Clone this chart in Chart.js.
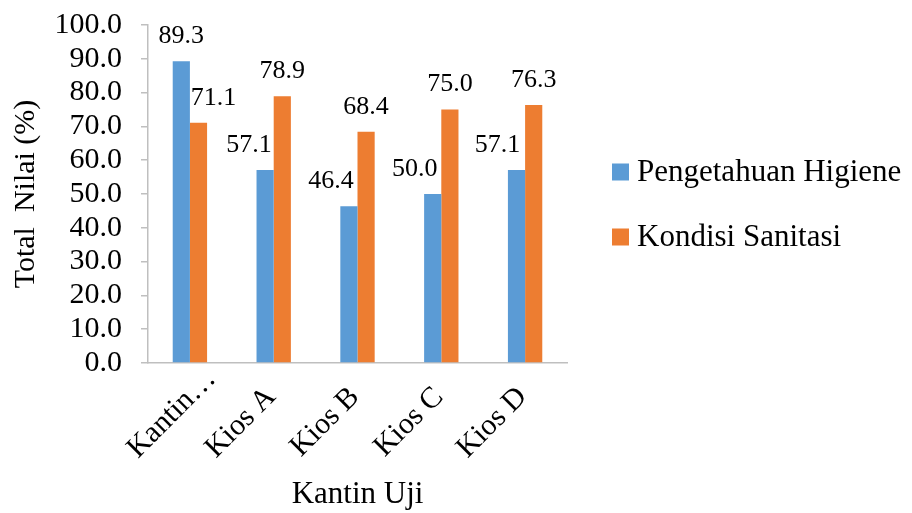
<!DOCTYPE html>
<html>
<head>
<meta charset="utf-8">
<script src="https://cdn.jsdelivr.net/npm/chart.js@4/dist/chart.umd.min.js"></script>
<style>
  html, body { margin: 0; padding: 0; background: #ffffff; }
  #wrap { width: 912px; height: 513px; position: relative; }
</style>
</head>
<body>
<div id="wrap"><canvas id="chart" width="912" height="513"></canvas></div>
<script>
// Canteens surveyed
const categories = ['Kantin\u2026', 'Kios A', 'Kios B', 'Kios C', 'Kios D'];

// Scores per canteen (%)
const pengetahuanHigiene = [89.3, 57.1, 46.4, 50.0, 57.1];
const kondisiSanitasi = [71.1, 78.9, 68.4, 75.0, 76.3];

const seriesNames = ['Pengetahuan Higiene', 'Kondisi Sanitasi'];
const yTicks = [0, 10, 20, 30, 40, 50, 60, 70, 80, 90, 100];

const FONT = "'Liberation Serif', 'Times New Roman', serif";
const AXIS_GRAY = '#bfbfbf';

// Value labels above each bar, with small horizontal nudges so they don't collide
const valueLabels = {
  id: 'valueLabels',
  afterDatasetsDraw(chart, args, opts) {
    const ctx = chart.ctx;
    ctx.save();
    ctx.font = opts.size + 'px ' + FONT;
    ctx.fillStyle = '#000000';
    ctx.textAlign = 'center';
    ctx.textBaseline = 'middle';
    chart.data.datasets.forEach((ds, di) => {
      const meta = chart.getDatasetMeta(di);
      const nudges = opts.nudgeX[di] || [];
      meta.data.forEach((bar, i) => {
        const v = ds.data[i];
        ctx.fillText(v.toFixed(1), bar.x + (nudges[i] || 0), bar.y - opts.gap);
      });
    });
    ctx.restore();
  }
};

// Slanted category names under the x axis, placed at the scale's tick positions
const slantedCategoryLabels = {
  id: 'slantedCategoryLabels',
  afterDraw(chart, args, opts) {
    const ctx = chart.ctx;
    const xs = chart.scales.x;
    ctx.save();
    ctx.font = opts.size + 'px ' + FONT;
    ctx.fillStyle = '#000000';
    ctx.textAlign = 'right';
    ctx.textBaseline = 'alphabetic';
    chart.data.labels.forEach((lab, i) => {
      const n = opts.nudge[i] || [0, 0];
      const x = xs.getPixelForTick(i) + opts.dx + n[0];
      const y = xs.top + opts.dy + n[1];
      ctx.save();
      ctx.translate(x, y);
      ctx.rotate(-Math.PI / 4);
      ctx.fillText(lab, 0, 0);
      ctx.restore();
    });
    ctx.restore();
  }
};

// Legend drawn to the right of the plot area
const sideLegend = {
  id: 'sideLegend',
  afterDraw(chart, args, opts) {
    const ctx = chart.ctx;
    ctx.save();
    ctx.font = opts.size + 'px ' + FONT;
    ctx.textAlign = 'left';
    ctx.textBaseline = 'middle';
    chart.data.datasets.forEach((ds, i) => {
      const y = opts.top + i * opts.step;
      ctx.fillStyle = ds.backgroundColor;
      ctx.fillRect(opts.x, y - opts.box / 2, opts.box, opts.box);
      ctx.fillStyle = '#000000';
      ctx.fillText(ds.label, opts.x + opts.box + 8, y + 1);
    });
    ctx.restore();
  }
};

new Chart(document.getElementById('chart'), {
  type: 'bar',
  data: {
    labels: categories,
    datasets: [
      { label: seriesNames[0], data: pengetahuanHigiene, backgroundColor: '#5b9bd5',
        categoryPercentage: 0.41, barPercentage: 1.0 },
      { label: seriesNames[1], data: kondisiSanitasi, backgroundColor: '#ed7d31',
        categoryPercentage: 0.41, barPercentage: 1.0 }
    ]
  },
  options: {
    responsive: false,
    animation: false,
    devicePixelRatio: 1,
    layout: { padding: { left: 0, right: 345, top: 25, bottom: 0 } },
    plugins: {
      legend: { display: false },
      tooltip: { enabled: false },
      valueLabels: {
        size: 26,
        gap: 25,
        nudgeX: [[0, -16, -18, -18, -19], [15, 0, 0, 0, 0]]
      },
      slantedCategoryLabels: {
        size: 30,
        dx: 3,
        dy: 35,
        nudge: [[24, -18]]
      },
      sideLegend: { x: 612, top: 172, step: 65, box: 17, size: 31 }
    },
    scales: {
      x: {
        grid: { display: false },
        border: { display: true, color: AXIS_GRAY, width: 1.5 },
        ticks: { display: false },
        title: {
          display: true,
          text: 'Kantin Uji',
          color: '#000000',
          font: { family: FONT, size: 31 },
          padding: { top: 0, bottom: 0 }
        },
        afterFit(scale) { scale.height = 150; }
      },
      y: {
        min: 0,
        max: 100,
        afterBuildTicks(scale) { scale.ticks = yTicks.map(v => ({ value: v })); },
        grid: {
          drawOnChartArea: false,
          drawTicks: true,
          tickLength: 7,
          color: AXIS_GRAY,
          lineWidth: 1.5
        },
        border: { display: true, color: AXIS_GRAY, width: 1.5 },
        ticks: {
          color: '#000000',
          font: { family: FONT, size: 30 },
          padding: 19,
          autoSkip: false,
          callback: (v) => Number(v).toFixed(1)
        },
        title: {
          display: true,
          text: 'Total  Nilai (%)',
          color: '#000000',
          font: { family: FONT, size: 30 },
          padding: { top: 8, bottom: 0 }
        },
        afterFit(scale) {
          scale.width = 148;
          scale.paddingTop = 0;
          scale.paddingBottom = 0;
        }
      }
    }
  },
  plugins: [valueLabels, slantedCategoryLabels, sideLegend]
});
</script>
</body>
</html>
